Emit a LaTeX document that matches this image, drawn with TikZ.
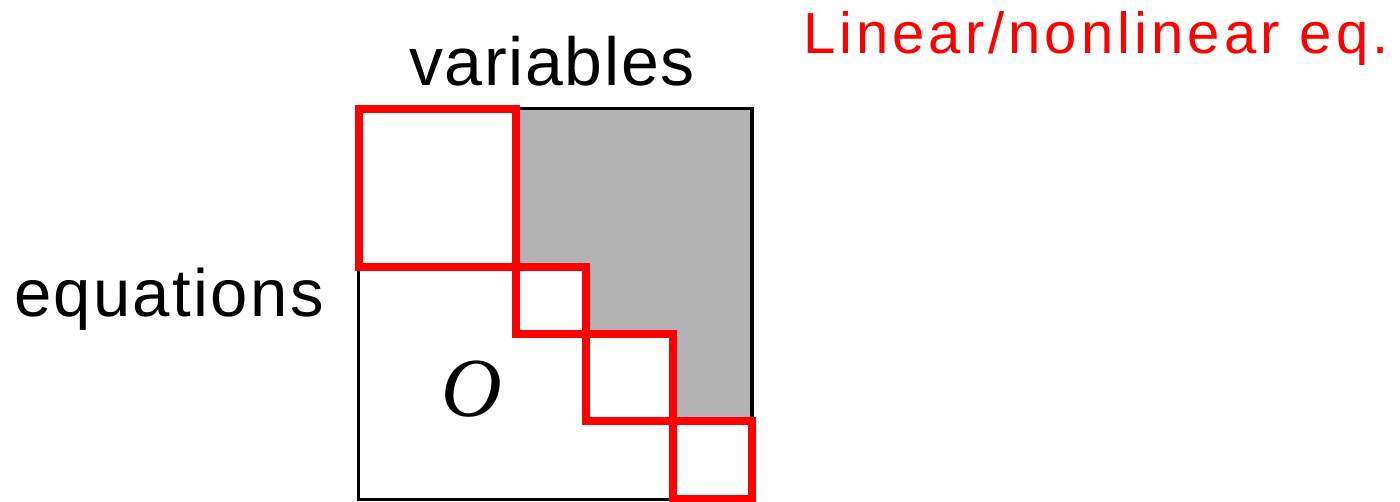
\documentclass[tikz,border=0pt]{standalone}
\usepackage{fontspec}
\setmainfont{Liberation Sans}
\newfontfamily\varfont[LetterSpace=2.5]{Liberation Sans}
\newfontfamily\eqfont[LetterSpace=3.6]{Liberation Sans}
\newfontfamily\redfont[LetterSpace=7.0]{Liberation Sans}
\newfontfamily\zerofont{Liberation Serif}
\definecolor{blockred}{RGB}{255,0,0}
\definecolor{fillgray}{RGB}{179,179,179}
\tikzset{
  frame/.style={draw=black, line width=3.5pt},
  block/.style={draw=blockred, line width=7.6pt, line join=miter},
  lbl/.style={inner sep=0pt, outer sep=0pt, anchor=base west},
}
\begin{document}
\begin{tikzpicture}[x=1pt, y=-1pt]
  \useasboundingbox (0,0) rectangle (1400,502);
  % nonzero upper part of the matrix
  \fill[fillgray] (516,109) -- (752,109) -- (752,421) -- (673,421) -- (673,334)
    -- (586,334) -- (586,267) -- (516,267) -- cycle;
  % matrix outline
  \draw[frame] (358.5,108.5) rectangle (752,499.5);
  % diagonal blocks
  \draw[block] (359,109) rectangle (516,267);
  \draw[block] (516,267) rectangle (586,334);
  \draw[block] (586,334) rectangle (673,421);
  \draw[block] (673,421) rectangle (752,498.5);
  % labels
  \node[lbl] (vars) at (409,86) {\varfont\fontsize{68}{70}\selectfont variables};
  \node[lbl] (eqs) at (14,317) {\eqfont\fontsize{67}{70}\selectfont equations};
  \node[lbl, text=blockred] (kind) at (803,54) {\redfont\fontsize{58}{60}\selectfont Linear/nonlinear eq.};
  \node[inner sep=0pt] (zero) at (472,389) {\zerofont\itshape\fontsize{84}{90}\selectfont O};
\end{tikzpicture}
\end{document}
